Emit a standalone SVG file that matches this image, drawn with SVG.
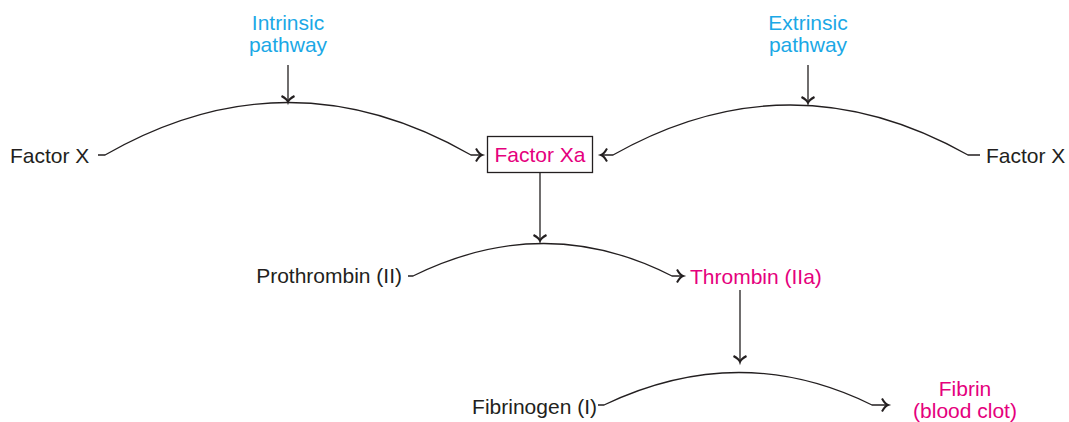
<svg xmlns="http://www.w3.org/2000/svg" width="1069" height="422" viewBox="0 0 1069 422">
<style>
text{font-family:"Liberation Sans",Arial,sans-serif;font-size:21px}
.k{fill:#231f20}
.c{fill:#1ba8e6}
.m{fill:#e5007d}
.ln{fill:none;stroke:#231f20;stroke-width:1.3}
</style>
<defs>
<marker id="ah" markerUnits="userSpaceOnUse" viewBox="-8 -8 10 16" refX="0" refY="0" markerWidth="10" markerHeight="16" orient="auto" overflow="visible">
<path d="M-6,-6.5 Q-3,-1 0,0 Q-3,1 -6,6.5" fill="none" stroke="#231f20" stroke-width="2"/>
</marker>
</defs>
<rect width="1069" height="422" fill="#fff"/>
<g id="intrinsic"><text class="c" x="288" y="30" text-anchor="middle">Intrinsic</text><text class="c" x="288" y="52" text-anchor="middle">pathway</text></g>
<g id="extrinsic"><text class="c" x="808" y="30" text-anchor="middle">Extrinsic</text><text class="c" x="808" y="52" text-anchor="middle">pathway</text></g>
<g id="factorx-left"><text class="k" x="10" y="163">Factor X</text></g>
<g id="factorx-right"><text class="k" x="986" y="163">Factor X</text></g>
<g id="factorxa"><rect x="487.5" y="136.5" width="105" height="36" fill="#fff" stroke="#231f20" stroke-width="1.3"/><text class="m" x="540" y="162" text-anchor="middle">Factor Xa</text></g>
<g id="prothrombin"><text class="k" x="402" y="283" text-anchor="end">Prothrombin (II)</text></g>
<g id="thrombin"><text class="m" x="690" y="284">Thrombin (IIa)</text></g>
<g id="fibrinogen"><text class="k" x="597" y="414" text-anchor="end">Fibrinogen (I)</text></g>
<g id="fibrin"><text class="m" x="965" y="396" text-anchor="middle">Fibrin</text><text class="m" x="965" y="418" text-anchor="middle">(blood clot)</text></g>
<g id="connectors">
<path class="ln" d="M288,65 V102" marker-end="url(#ah)"/>
<path class="ln" d="M808,65 V103" marker-end="url(#ah)"/>
<path class="ln" d="M98,155 H105 Q288,50 471,155 H482" marker-end="url(#ah)"/>
<path class="ln" d="M980,155 H968 Q790,55 613,155 H601" marker-end="url(#ah)"/>
<path class="ln" d="M540,172 V241" marker-end="url(#ah)"/>
<path class="ln" d="M408,276 H413 Q545,211 672,276 H683" marker-end="url(#ah)"/>
<path class="ln" d="M740,290 V362" marker-end="url(#ah)"/>
<path class="ln" d="M598,405 H604 Q740,340 872,405 H888" marker-end="url(#ah)"/>
</g>
</svg>
